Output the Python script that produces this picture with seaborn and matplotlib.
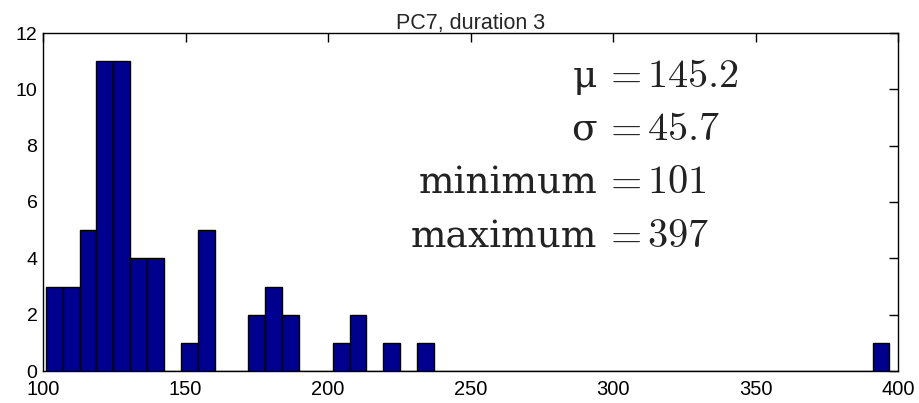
import numpy as np
import pandas as pd
import seaborn as sns
import matplotlib
matplotlib.use("Agg")
import matplotlib.pyplot as plt

# Data (50 equal bins between min and max)
data_min = 101
data_max = 397
n_bins = 50
bin_counts = [3, 3, 5, 11, 11, 4, 4, 0, 1, 5,
              0, 0, 2, 3, 2, 0, 0, 1, 2, 0,
              1, 0, 1, 0, 0, 0, 0, 0, 0, 0,
              0, 0, 0, 0, 0, 0, 0, 0, 0, 0,
              0, 0, 0, 0, 0, 0, 0, 0, 0, 1]
title = "PC7, duration 3"
stat_labels = ["μ", "σ", "minimum", "maximum"]
stat_values = ["145.2", "45.7", "101", "397"]
x_ticks = [100, 150, 200, 250, 300, 350, 400]
y_ticks = [0, 2, 4, 6, 8, 10, 12]

edges = np.linspace(data_min, data_max, n_bins + 1)
centers = (edges[:-1] + edges[1:]) / 2
df = pd.DataFrame({"value": centers, "count": bin_counts})

sns.set_style("white")
plt.rcParams["font.family"] = ["Liberation Sans", "DejaVu Sans"]
plt.rcParams["mathtext.fontset"] = "cm"

fig = plt.figure(figsize=(9.19, 4.03), dpi=100)
ax = fig.add_axes([43 / 919, 1 - 371 / 403, (898 - 43) / 919, (371 - 33) / 403])

sns.histplot(data=df, x="value", weights="count", bins=n_bins,
             binrange=(data_min, data_max), ax=ax,
             color="#00008F", edgecolor="black", linewidth=1.0, alpha=1.0)

ax.set_xlim(100, 400)
ax.set_ylim(0, 12)
ax.set_xticks(x_ticks)
ax.set_yticks(y_ticks)
ax.set_xlabel("")
ax.set_ylabel("")
ax.set_title(title, fontsize=15.5, pad=3)
ax.tick_params(direction="in", length=6.5, width=1, top=True, right=True,
               colors="black")
ax.tick_params(axis="x", pad=6.5, labelsize=14.5)
ax.tick_params(axis="y", pad=4, labelsize=14)
for lbl in ax.get_yticklabels():
    lbl.set_verticalalignment("center_baseline")
for s in ax.spines.values():
    s.set_visible(True)
    s.set_color("black")
    s.set_linewidth(1.0)

# Stats annotation, aligned on the "=" signs
label_right = 597 / 919
eq_center = 622 / 919
value_left = 647 / 919
baselines = [87, 140, 193, 247]
for lab, val, yb in zip(stat_labels, stat_values, baselines):
    yf = 1 - yb / 403
    fig.text(label_right, yf, lab, ha="right", va="baseline", fontsize=27,
             family="DejaVu Serif", color="#222222")
    fig.text(eq_center, yf, r"$=$", ha="center", va="baseline", fontsize=29,
             color="#222222")
    fig.text(value_left, yf, r"$\mathrm{" + val + "}$", ha="left",
             va="baseline", fontsize=29, color="#222222")

fig.savefig("out.png", dpi=100)
